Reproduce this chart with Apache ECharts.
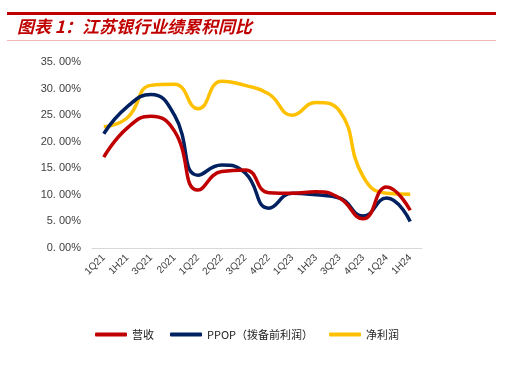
<!DOCTYPE html>
<html><head><meta charset="utf-8">
<script src="https://cdn.jsdelivr.net/npm/echarts@6/dist/echarts.min.js"></script>
<style>html,body{margin:0;padding:0;background:#fff}#c{width:510px;height:371px}</style>
</head><body><div id="c"></div>
<script>
const categories = ['1Q21','1H21','3Q21','2021','1Q22','2Q22','3Q22','4Q22','1Q23','1H23','3Q23','4Q23','1Q24','1H24'];
const revenue = [17.1, 22.6, 24.8, 22.0, 10.9, 14.4, 14.7, 10.4, 10.3, 10.6, 9.4, 5.5, 11.5, 7.1];
const ppop    = [21.5, 26.6, 28.9, 25.0, 13.7, 15.6, 14.1, 7.5, 10.3, 10.0, 9.4, 6.0, 9.4, 5.0];
const netProfit = [22.8, 24.5, 30.6, 30.8, 26.2, 31.4, 30.6, 29.0, 25.0, 27.4, 25.8, 13.5, 10.3, 10.1];
const seriesNames = ['营收', 'PPOP（拨备前利润）', '净利润'];
const yTicks = {min: 0, max: 35, interval: 5};

const chart = echarts.init(document.getElementById('c'));
const colors = ['#C00000', '#002060', '#FFC000'];
const mk = (name, data, i) => ({
  name, type: 'line', data, smooth: 0.5, symbol: 'none',
  lineStyle: {width: 3.5, color: colors[i]}, itemStyle: {color: colors[i]}, z: 3 - i
});
chart.setOption({
  animation: false,
  graphic: [
    {type: 'rect', shape: {x: 7, y: 12, width: 489, height: 3}, style: {fill: '#C00000'}},
    {type: 'rect', shape: {x: 7, y: 40, width: 489, height: 1}, style: {fill: '#F2B8B8'}},
    {type: 'text', left: 17, top: 18, style: {text: '图表 1：江苏银行业绩累积同比', fill: '#C00000', font: 'italic bold 17px "Noto Sans CJK SC", sans-serif'}}
  ],
  grid: {left: 92, right: 88, top: 62, bottom: 123},
  legend: {
    bottom: 26, left: 90, itemGap: 16, itemWidth: 32, itemHeight: 4,
    icon: 'roundRect',
    textStyle: {fontSize: 11, color: '#222', fontFamily: '"Noto Sans CJK SC", sans-serif'},
    data: seriesNames
  },
  xAxis: {
    type: 'category', data: categories, boundaryGap: true,
    axisLine: {lineStyle: {color: '#D9D9D9', width: 1}},
    axisTick: {show: false},
    axisLabel: {rotate: 45, fontSize: 10, color: '#404040', margin: 8, fontFamily: 'Arial, "Liberation Sans", sans-serif'}
  },
  yAxis: {
    type: 'value', min: yTicks.min, max: yTicks.max, interval: yTicks.interval,
    axisLine: {show: false}, axisTick: {show: false}, splitLine: {show: false},
    axisLabel: {fontSize: 11, color: '#404040', margin: 11, fontFamily: 'Arial, "Liberation Sans", sans-serif',
      formatter: v => v.toFixed(2).replace('.', '. ') + '%'}
  },
  series: [mk(seriesNames[0], revenue, 0), mk(seriesNames[1], ppop, 1), mk(seriesNames[2], netProfit, 2)]
});
</script></body></html>
